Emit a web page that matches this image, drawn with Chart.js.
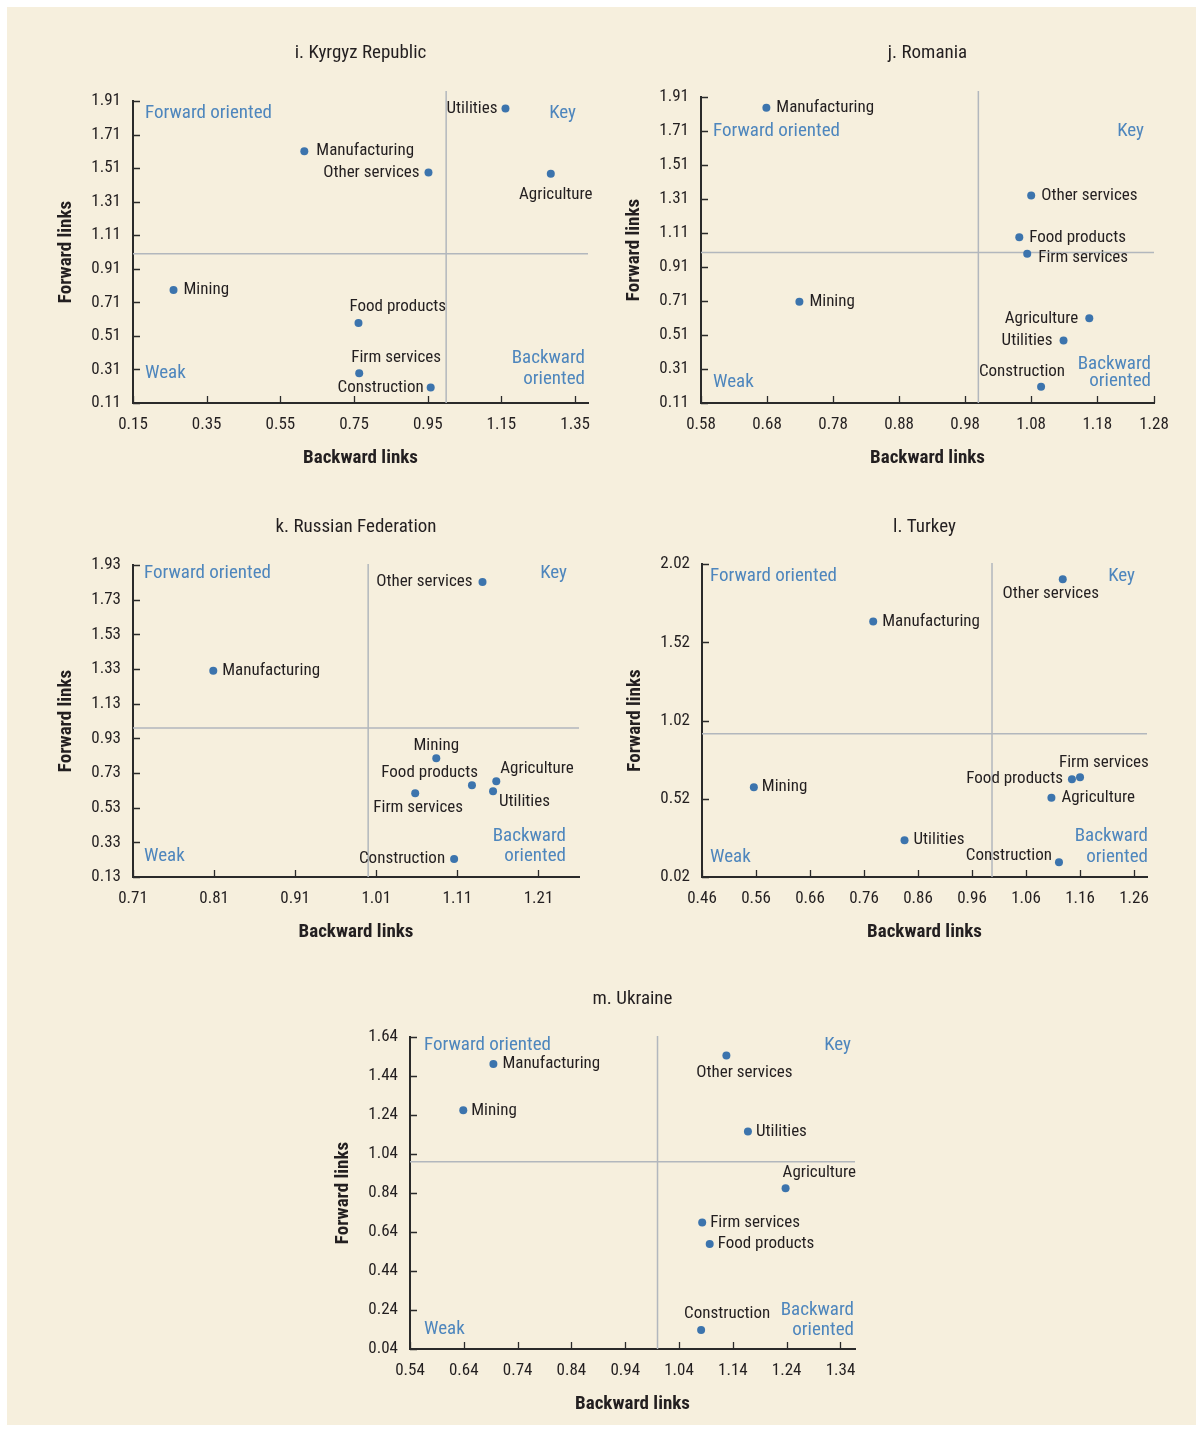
<!DOCTYPE html>
<html><head><meta charset="utf-8">
<script src="https://cdn.jsdelivr.net/npm/chart.js@4.4.1/dist/chart.umd.min.js"></script>
<style>
html,body{margin:0;padding:0;background:#ffffff;}
#panel{position:absolute;left:7px;top:7px;width:1189px;height:1418px;background:#f6efdd;}
canvas{position:absolute;}
</style></head><body>
<div id="panel"></div>
<canvas id="c0"></canvas><canvas id="c1"></canvas><canvas id="c2"></canvas><canvas id="c3"></canvas><canvas id="c4"></canvas>
<script>
const FONT = "'Liberation Sans Narrow','Arial Narrow','Roboto Condensed','DejaVu Sans Condensed',sans-serif";

// ---- data ----
const sectors = ["Agriculture","Mining","Food products","Manufacturing","Utilities","Construction","Firm services","Other services"];

const kgBackward = [1.284, 0.260, 0.762, 0.615, 1.161, 0.958, 0.764, 0.952];
const kgForward  = [1.476, 0.783, 0.587, 1.611, 1.866, 0.203, 0.288, 1.484];
const roBackward = [1.168, 0.729, 1.062, 0.679, 1.129, 1.095, 1.074, 1.080];
const roForward  = [0.608, 0.706, 1.085, 1.847, 0.477, 0.206, 0.988, 1.330];
const ruBackward = [1.158, 1.084, 1.128, 0.809, 1.154, 1.106, 1.058, 1.141];
const ruForward  = [0.683, 0.815, 0.659, 1.320, 0.625, 0.234, 0.613, 1.832];
const trBackward = [1.107, 0.556, 1.145, 0.777, 0.835, 1.121, 1.160, 1.128];
const trForward  = [0.527, 0.594, 0.645, 1.653, 0.255, 0.114, 0.657, 1.922];
const uaBackward = [1.238, 0.639, 1.097, 0.695, 1.168, 1.081, 1.083, 1.128];
const uaForward  = [0.865, 1.264, 0.579, 1.501, 1.156, 0.138, 0.689, 1.545];

// quadrant thresholds [backward, forward]
const kgThreshold = [1.0, 1.0];
const roThreshold = [1.0, 0.995];
const ruThreshold = [1.0, 0.99];
const trThreshold = [0.997, 0.935];
const uaThreshold = [1.0, 1.0];

// axis ranges and ticks
const kgXRange = [0.15, 1.385];
const kgXTicks = [0.15, 0.35, 0.55, 0.75, 0.95, 1.15, 1.35];
const kgXTickLabels = ["0.15","0.35","0.55","0.75","0.95","1.15","1.35"];
const kgYRange = [0.11, 1.91];
const kgYTicks = [0.11, 0.31, 0.51, 0.71, 0.91, 1.11, 1.31, 1.51, 1.71, 1.91];
const kgYTickLabels = ["0.11","0.31","0.51","0.71","0.91","1.11","1.31","1.51","1.71","1.91"];

const roXRange = [0.58, 1.266];
const roXTicks = [0.58, 0.68, 0.78, 0.88, 0.98, 1.08, 1.18, 1.266];
const roXTickLabels = ["0.58","0.68","0.78","0.88","0.98","1.08","1.18","1.28"];
const roYRange = [0.11, 1.91];
const roYTicks = [0.11, 0.31, 0.51, 0.71, 0.91, 1.11, 1.31, 1.51, 1.71, 1.91];
const roYTickLabels = ["0.11","0.31","0.51","0.71","0.91","1.11","1.31","1.51","1.71","1.91"];

const ruXRange = [0.71, 1.26];
const ruXTicks = [0.71, 0.81, 0.91, 1.01, 1.11, 1.21];
const ruXTickLabels = ["0.71","0.81","0.91","1.01","1.11","1.21"];
const ruYRange = [0.13, 1.93];
const ruYTicks = [0.13, 0.33, 0.53, 0.73, 0.93, 1.13, 1.33, 1.53, 1.73, 1.93];
const ruYTickLabels = ["0.13","0.33","0.53","0.73","0.93","1.13","1.33","1.53","1.73","1.93"];

const trXRange = [0.46, 1.284];
const trXTicks = [0.46, 0.56, 0.66, 0.76, 0.86, 0.96, 1.06, 1.16, 1.26];
const trXTickLabels = ["0.46","0.56","0.66","0.76","0.86","0.96","1.06","1.16","1.26"];
const trYRange = [0.02, 2.02];
const trYTicks = [0.02, 0.52, 1.02, 1.52, 2.02];
const trYTickLabels = ["0.02","0.52","1.02","1.52","2.02"];

const uaXRange = [0.54, 1.367];
const uaXTicks = [0.54, 0.64, 0.74, 0.84, 0.94, 1.04, 1.14, 1.24, 1.34];
const uaXTickLabels = ["0.54","0.64","0.74","0.84","0.94","1.04","1.14","1.24","1.34"];
const uaYRange = [0.04, 1.64];
const uaYTicks = [0.04, 0.24, 0.44, 0.64, 0.84, 1.04, 1.24, 1.44, 1.64];
const uaYTickLabels = ["0.04","0.24","0.44","0.64","0.84","1.04","1.24","1.44","1.64"];

const titles = ["i. Kyrgyz Republic", "j. Romania", "k. Russian Federation", "l. Turkey", "m. Ukraine"];

// ---- layout / style (not data) ----
const plotRects = [ // page px: left, top, right, bottom, titleY
  [133, 101, 588, 403, 53],
  [701, 97, 1154, 403, 53],
  [133, 565, 579, 877, 527],
  [702, 564, 1147, 877, 527],
  [410, 1037, 855, 1349, 999]
];
// point label placement per sector: [align, dx, dy]
const labelPlacements = [
  [['c',5,21],['l',10,0],['l',-9,-16],['l',12,0],['r',-8,0],['r',-7,0],['l',-8,-15],['r',-9,0]],
  [['r',-11,0],['l',10,0],['l',10,0],['l',10,0],['r',-11,0],['r',24,-15],['l',11,4],['l',10,0]],
  [['l',4,-12],['c',0,-13],['r',6,-13],['l',9,0],['l',6,11],['r',-9,0],['c',3,14],['r',-10,0]],
  [['l',10,0],['l',8,0],['r',-9,0],['l',9,0],['l',9,0],['r',-7,-7],['l',-21,-15],['c',-12,14]],
  [['l',-3,-15],['l',8,0],['l',8,0],['l',9,0],['l',8,0],['l',-17,-16],['l',8,0],['c',18,17]]
];
// quadrant labels offsets: fo[dx,dy], key[dx,dy], weak[dx,dy], back[dx,dy1,dy2], vertical line overshoot
const quadPlacements = [
  {fo:[12,12], key:[12,12], weak:[12,30], back:[3,45,24], over:10},
  {fo:[12,34], key:[10,34], weak:[12,21], back:[3,39,22], over:6},
  {fo:[11,8], key:[12,8], weak:[11,21], back:[13,41,21], over:1},
  {fo:[8,12], key:[12,12], weak:[8,20], back:[-1,41,20], over:1},
  {fo:[14,8], key:[4,8], weak:[14,20], back:[1,39,19], over:1}
];

const POINT_COLOR = '#3c74ad';
const QUAD_COLOR = '#4e86bd';
const TEXT_COLOR = '#231f20';

const chartsSpec = [
  {bw:kgBackward, fw:kgForward, th:kgThreshold, xr:kgXRange, xt:kgXTicks, xl:kgXTickLabels, yr:kgYRange, yt:kgYTicks, yl:kgYTickLabels},
  {bw:roBackward, fw:roForward, th:roThreshold, xr:roXRange, xt:roXTicks, xl:roXTickLabels, yr:roYRange, yt:roYTicks, yl:roYTickLabels},
  {bw:ruBackward, fw:ruForward, th:ruThreshold, xr:ruXRange, xt:ruXTicks, xl:ruXTickLabels, yr:ruYRange, yt:ruYTicks, yl:ruYTickLabels},
  {bw:trBackward, fw:trForward, th:trThreshold, xr:trXRange, xt:trXTicks, xl:trXTickLabels, yr:trYRange, yt:trYTicks, yl:trYTickLabels},
  {bw:uaBackward, fw:uaForward, th:uaThreshold, xr:uaXRange, xt:uaXTicks, xl:uaXTickLabels, yr:uaYRange, yt:uaYTicks, yl:uaYTickLabels}
];

const Y_AXIS_W = 100, X_AXIS_H = 75, RIGHT_PAD = 50, TITLE_SIZE = 19, TITLE_LH = 19 * 1.2;

const overlayPlugin = {
  id: 'overlay',
  beforeDatasetsDraw(chart, args, opts) {
    const {ctx, chartArea: a, scales: {x, y}} = chart;
    const px = x.getPixelForValue(opts.th[0]);
    const py = y.getPixelForValue(opts.th[1]);
    ctx.save();
    ctx.strokeStyle = '#b2b7bd';
    ctx.lineWidth = 1.5;
    ctx.beginPath();
    ctx.moveTo(px, a.top - opts.q.over); ctx.lineTo(px, a.bottom);
    ctx.moveTo(a.left, py); ctx.lineTo(a.right, py);
    ctx.stroke();
    ctx.restore();
  },
  afterDraw(chart, args, opts) {
    const {ctx, chartArea: a, scales: {x, y}} = chart;
    ctx.save();
    // inside tick marks
    ctx.strokeStyle = '#2a2a2a';
    ctx.lineWidth = 1.3;
    ctx.beginPath();
    x.ticks.forEach(t => { const p = Math.round(x.getPixelForValue(t.value)) + 0.5; ctx.moveTo(p, a.bottom); ctx.lineTo(p, a.bottom - 7); });
    y.ticks.forEach(t => { const p = Math.round(y.getPixelForValue(t.value)) + 0.5; ctx.moveTo(a.left, p); ctx.lineTo(a.left + 7, p); });
    ctx.stroke();
    // point labels
    ctx.font = '17px ' + FONT;
    ctx.fillStyle = TEXT_COLOR;
    ctx.textBaseline = 'middle';
    const meta = chart.getDatasetMeta(0);
    meta.data.forEach((el, i) => {
      const pl = opts.lp[i];
      ctx.textAlign = pl[0] === 'l' ? 'left' : (pl[0] === 'r' ? 'right' : 'center');
      ctx.fillText(opts.names[i], el.x + pl[1], el.y + pl[2]);
    });
    // quadrant labels
    const q = opts.q;
    ctx.font = '19px ' + FONT;
    ctx.fillStyle = QUAD_COLOR;
    ctx.textAlign = 'left';
    ctx.fillText('Forward oriented', a.left + q.fo[0], a.top + q.fo[1]);
    ctx.fillText('Weak', a.left + q.weak[0], a.bottom - q.weak[1]);
    ctx.textAlign = 'right';
    ctx.fillText('Key', a.right - q.key[0], a.top + q.key[1]);
    ctx.fillText('Backward', a.right - q.back[0], a.bottom - q.back[1]);
    ctx.fillText('oriented', a.right - q.back[0], a.bottom - q.back[2]);
    ctx.restore();
  }
};

chartsSpec.forEach((s, k) => {
  const [L, T, R, B, TY] = plotRects[k];
  const canvas = document.getElementById('c' + k);
  const cTop = TY - 22;
  const tOff = T - cTop;
  const W = Y_AXIS_W + (R - L) + RIGHT_PAD;
  const H = tOff + (B - T) + X_AXIS_H;
  canvas.width = W; canvas.height = H;
  canvas.style.left = (L - Y_AXIS_W) + 'px';
  canvas.style.top = cTop + 'px';
  canvas.style.width = W + 'px'; canvas.style.height = H + 'px';

  const points = s.bw.map((v, i) => ({x: v, y: s.fw[i]}));
  new Chart(canvas, {
    type: 'scatter',
    data: { datasets: [{ data: points, backgroundColor: POINT_COLOR, borderWidth: 0, pointRadius: 4, pointHoverRadius: 4 }] },
    plugins: [overlayPlugin],
    options: {
      responsive: false, animation: false, devicePixelRatio: 1,
      layout: { padding: { left: 0, top: 0, right: RIGHT_PAD, bottom: 0 } },
      plugins: {
        legend: { display: false }, tooltip: { enabled: false },
        title: { display: true, text: titles[k], fullSize: false, color: TEXT_COLOR,
                 font: { family: FONT, size: TITLE_SIZE, weight: 'normal', lineHeight: 1.2 },
                 padding: { top: 22 - TITLE_LH / 2, bottom: tOff - (22 - TITLE_LH / 2) - TITLE_LH } },
        overlay: { th: s.th, lp: labelPlacements[k], q: quadPlacements[k], names: sectors }
      },
      scales: {
        x: {
          type: 'linear', position: 'bottom', min: s.xr[0], max: s.xr[1],
          afterBuildTicks: (sc) => { sc.ticks = s.xt.map(v => ({ value: v })); },
          afterFit: (sc) => { sc.height = X_AXIS_H; sc.paddingLeft = 0; sc.paddingRight = 0; },
          ticks: { callback: (v, i) => s.xl[i], autoSkip: false, maxRotation: 0, padding: 12, color: TEXT_COLOR, font: { family: FONT, size: 17 } },
          grid: { display: false, drawTicks: false },
          border: { display: true, color: '#2a2a2a', width: 2 },
          title: { display: true, text: 'Backward links', color: TEXT_COLOR, font: { family: FONT, size: 19, weight: 'bold', lineHeight: 1.2 }, padding: { top: 0, bottom: 8 } }
        },
        y: {
          type: 'linear', position: 'left', min: s.yr[0], max: s.yr[1],
          afterBuildTicks: (sc) => { sc.ticks = s.yt.map(v => ({ value: v })); },
          afterFit: (sc) => { sc.width = Y_AXIS_W; sc.paddingTop = 0; sc.paddingBottom = 0; },
          ticks: { callback: (v, i) => s.yl[i], autoSkip: false, padding: 12, color: TEXT_COLOR, font: { family: FONT, size: 17 } },
          grid: { display: false, drawTicks: false },
          border: { display: true, color: '#2a2a2a', width: 2 },
          title: { display: true, text: 'Forward links', color: TEXT_COLOR, font: { family: FONT, size: 19, weight: 'bold', lineHeight: 1.2 }, padding: { top: 22, bottom: 0 } }
        }
      }
    }
  });
});
</script>
</body></html>
